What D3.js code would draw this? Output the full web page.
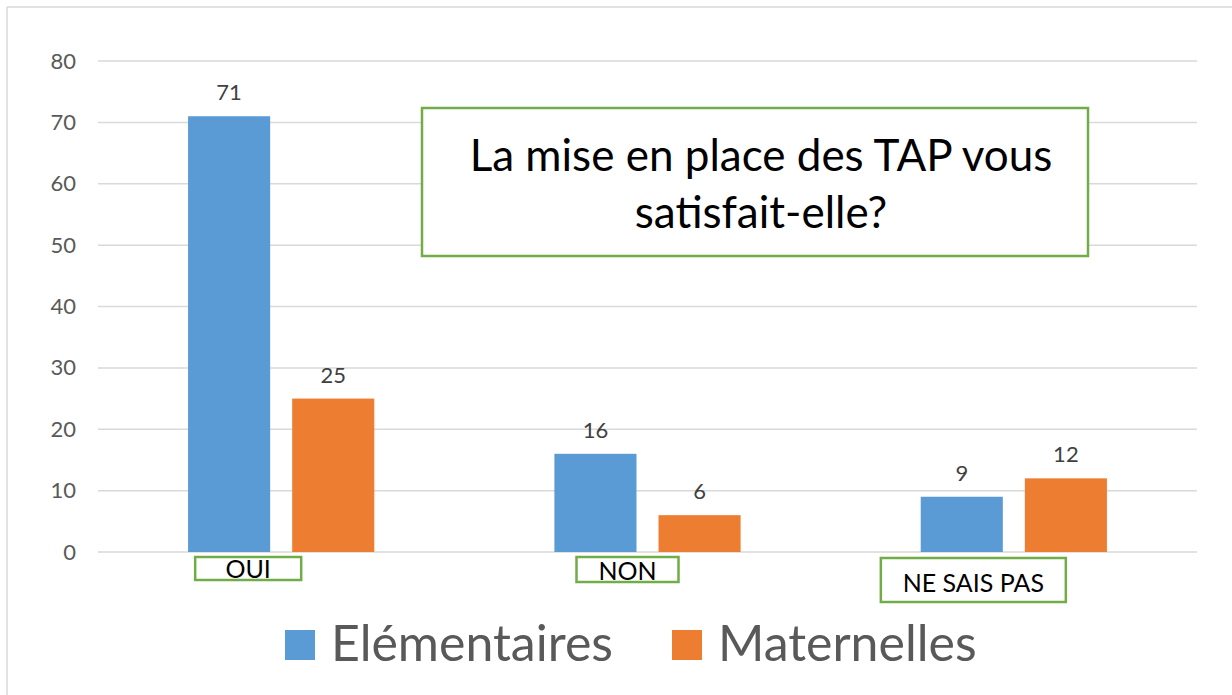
<!DOCTYPE html>
<html>
<head>
<meta charset="utf-8">
<script src="https://cdn.jsdelivr.net/npm/d3@7"></script>
<style>
body { margin: 0; background: #fff; }
text { font-family: Lato, "Open Sans", sans-serif; }
</style>
</head>
<body>
<div id="chart"></div>
<script>
var categories = ["OUI", "NON", "NE SAIS PAS"];
var seriesNames = ["Elémentaires", "Maternelles"];
var elementaires = [71, 16, 9];
var maternelles = [25, 6, 12];
var yTicks = [0, 10, 20, 30, 40, 50, 60, 70, 80];
var title = ["La mise en place des TAP vous", "satisfait-elle?"];

var colors = ["#5B9BD5", "#ED7D31"];
var green = "#70AD47";

var W = 1232, H = 695;
var svg = d3.select("#chart").append("svg")
  .attr("width", W).attr("height", H);

// chart frame (only top and left show)
svg.append("line").attr("x1", 7).attr("x2", W).attr("y1", 7).attr("y2", 7)
  .style("stroke", "#d9d9d9").style("stroke-width", 1.5);
svg.append("line").attr("x1", 7).attr("x2", 7).attr("y1", 7).attr("y2", H)
  .style("stroke", "#d9d9d9").style("stroke-width", 1.5);

var x0 = d3.scaleBand().domain(categories).range([98, 1197]);
var x1 = d3.scaleBand().domain(seriesNames).range([0, x0.bandwidth()])
  .paddingInner(0.2115).paddingOuter(0.865);
var y = d3.scaleLinear().domain([0, 80]).range([552, 61]);

// gridlines
svg.selectAll(".grid").data(yTicks).enter().append("line")
  .attr("x1", 98).attr("x2", 1197)
  .attr("y1", function(d) { return y(d); })
  .attr("y2", function(d) { return y(d); })
  .style("stroke", "#d9d9d9").style("stroke-width", 1.5);

// y labels
var yAxis = d3.axisLeft(y).tickValues(yTicks).tickSize(0).tickPadding(0);
var ya = svg.append("g").attr("transform", "translate(76,0)").call(yAxis);
ya.select(".domain").remove();
ya.selectAll("text").style("font-family", "Lato, sans-serif")
  .style("font-size", "22px").style("fill", "#595959");

var data = categories.map(function(c, i) {
  return { cat: c, values: [elementaires[i], maternelles[i]] };
});

var groups = svg.selectAll(".grp").data(data).enter().append("g")
  .attr("transform", function(d) { return "translate(" + x0(d.cat) + ",0)"; });

groups.selectAll("rect").data(function(d) {
    return d.values.map(function(v, j) { return { s: seriesNames[j], v: v, j: j }; });
  }).enter().append("rect")
  .attr("x", function(d) { return x1(d.s); })
  .attr("width", x1.bandwidth())
  .attr("y", function(d) { return y(d.v); })
  .attr("height", function(d) { return y(0) - y(d.v); })
  .style("fill", function(d) { return colors[d.j]; });

groups.selectAll(".val").data(function(d) {
    return d.values.map(function(v, j) { return { s: seriesNames[j], v: v }; });
  }).enter().append("text")
  .attr("x", function(d) { return x1(d.s) + x1.bandwidth() / 2; })
  .attr("y", function(d) { return y(d.v) - 16; })
  .attr("text-anchor", "middle")
  .style("font-size", "22px").style("fill", "#404040")
  .text(function(d) { return d.v; });

// category label boxes (hand placed text boxes in the original)
var boxes = [
  { dx: -86, w: 106, top: 557, h: 23, ty: 578 },
  { dx: -71, w: 102, top: 557, h: 25, ty: 580 },
  { dx: -133, w: 185, top: 558, h: 44, ty: 592 }
];
categories.forEach(function(c, i) {
  var cx = x0(c) + x0.bandwidth() / 2;
  var b = boxes[i];
  svg.append("rect")
    .attr("x", cx + b.dx).attr("y", b.top)
    .attr("width", b.w).attr("height", b.h)
    .style("fill", "#fff").style("stroke", green).style("stroke-width", 2.5);
  svg.append("text")
    .attr("x", cx + b.dx + b.w / 2).attr("y", b.ty)
    .attr("text-anchor", "middle")
    .style("font-size", "25px").style("fill", "#000")
    .text(c);
});

// title box
svg.append("rect").attr("x", 422).attr("y", 108).attr("width", 666).attr("height", 148)
  .style("fill", "#fff").style("stroke", green).style("stroke-width", 2.5);
svg.selectAll(".title").data(title).enter().append("text")
  .attr("x", 761)
  .attr("y", function(d, i) { return 171 + i * 57; })
  .attr("text-anchor", "middle")
  .style("font-size", "44px").style("fill", "#000")
  .text(function(d) { return d; });

// legend
var legX = [285, 672];
seriesNames.forEach(function(s, i) {
  svg.append("rect").attr("x", legX[i]).attr("y", 630).attr("width", 30).attr("height", 30)
    .style("fill", colors[i]);
  svg.append("text").attr("x", legX[i] + 46).attr("y", 661)
    .style("font-size", "50px").style("fill", "#595959")
    .text(s);
});
</script>
</body>
</html>
